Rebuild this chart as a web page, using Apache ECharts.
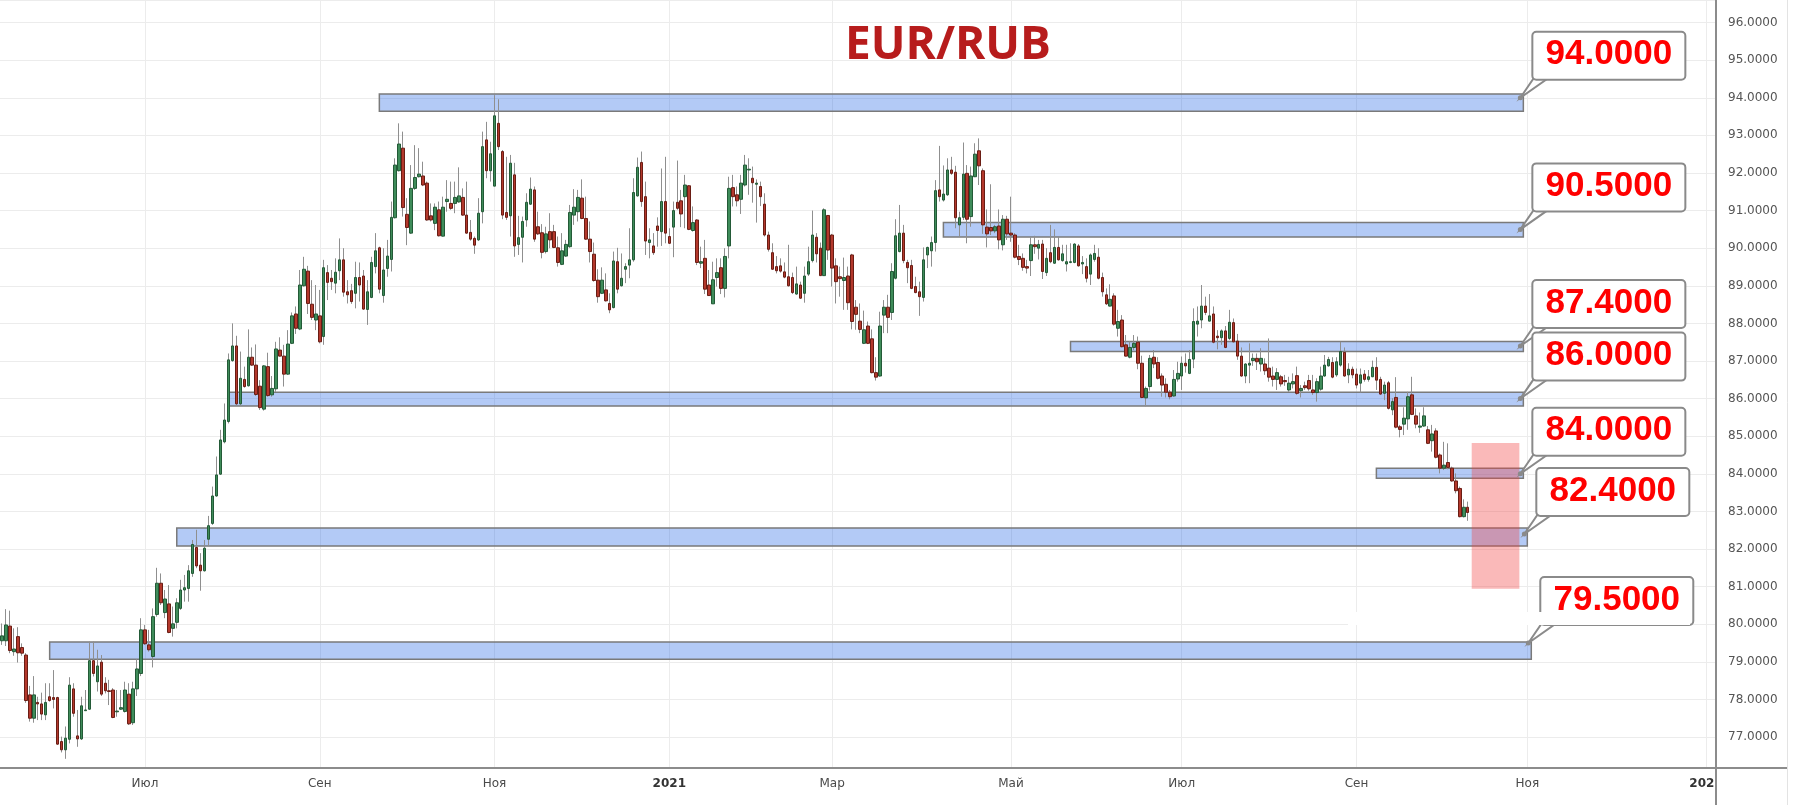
<!DOCTYPE html>
<html>
<head>
<meta charset="utf-8">
<title>EUR/RUB</title>
<script src="https://cdn.jsdelivr.net/npm/echarts/dist/echarts.min.js"></script>
<style>
  html, body { margin: 0; padding: 0; background: #fff; }
  #chart { width: 1793px; height: 805px; }
</style>
</head>
<body>
<div id="chart"></div>
<script>
// daily candles, first one on 2020-05-12 (weekdays only)
const open = [
  79.56,79.56,79.95,79.27,79.67,79.38,79.18,78.12,77.50,77.92,
  77.88,77.59,78.07,78.05,78.05,76.88,76.66,76.94,78.28,77.03,
  76.95,77.70,77.74,79.03,78.47,78.99,78.43,78.23,78.25,77.67,
  77.74,77.68,78.14,77.38,78.28,78.69,79.85,79.45,79.14,80.26,
  81.09,80.31,80.54,79.89,80.05,80.42,80.91,80.95,81.35,82.04,
  81.57,81.42,82.26,82.68,83.41,83.99,84.85,85.39,87.01,87.40,
  85.86,86.51,86.34,87.10,86.89,86.33,85.72,86.85,86.10,86.26,
  87.29,87.13,86.65,87.47,88.25,87.85,89.00,89.39,88.51,88.09,
  88.20,87.65,89.35,89.20,89.07,89.40,89.69,88.84,88.87,88.80,
  89.22,89.26,88.37,88.69,89.51,90.01,88.74,89.46,89.70,90.81,
  92.06,92.66,90.90,90.40,91.59,91.90,91.92,91.73,90.86,90.66,
  91.02,90.32,91.24,91.19,91.19,91.23,91.35,90.88,90.42,90.26,
  90.22,90.97,92.88,92.06,91.65,93.32,92.57,90.95,90.86,91.95,
  90.10,90.29,90.75,91.17,91.55,90.57,90.41,89.91,90.44,90.44,
  90.01,89.57,89.79,90.04,90.88,90.97,91.33,90.79,90.24,89.84,
  89.15,88.80,88.89,88.53,88.42,89.64,89.00,89.44,89.55,89.69,
  91.39,92.28,91.37,90.15,90.06,90.59,90.44,91.24,90.31,90.56,
  91.22,91.26,91.37,91.66,90.47,90.75,89.60,89.73,89.02,88.52,
  89.22,89.48,88.93,90.06,91.61,91.42,91.30,91.68,92.08,91.86,
  91.70,91.64,91.17,90.35,89.88,89.51,89.53,89.37,89.24,89.22,
  88.78,89.02,88.80,89.31,89.67,90.29,90.00,89.27,90.87,90.35,
  89.53,89.24,89.14,89.26,89.82,88.43,88.06,87.47,87.93,87.59,
  86.69,86.60,88.22,88.43,88.29,89.20,89.91,90.40,89.62,89.54,
  88.98,88.84,88.69,89.82,89.93,90.15,91.55,91.28,91.42,92.08,
  92.02,90.62,90.82,91.99,90.84,91.90,92.59,92.06,90.56,90.55,
  90.46,90.59,90.09,90.77,90.40,90.35,89.78,89.73,89.51,89.67,
  90.09,90.00,90.11,89.35,89.88,89.60,90.02,89.67,89.58,89.62,
  89.62,90.06,89.58,89.51,89.31,89.70,89.76,89.22,88.76,88.46,
  88.73,87.87,88.09,87.43,87.10,87.36,87.50,86.94,86.02,86.32,
  87.10,86.96,86.60,86.38,86.17,86.07,86.52,86.60,86.94,86.67,
  87.05,87.98,88.09,88.46,88.06,88.25,87.66,87.62,87.80,87.60,
  88.02,87.53,87.13,86.60,86.89,87.01,87.07,86.92,86.92,86.81,
  86.60,86.51,86.58,86.48,86.23,86.39,86.61,86.21,86.34,86.48,
  86.23,86.16,86.25,86.60,86.87,86.96,86.63,86.89,87.23,86.63,
  86.78,86.65,86.41,86.65,86.51,86.58,86.83,86.51,86.14,86.42,
  85.70,86.03,85.25,85.32,85.46,86.10,85.54,85.24,85.27,85.17,
  84.88,85.14,84.50,84.15,84.30,84.15,83.81,83.61,82.86,83.11
];
const high = [
  80.02,80.40,80.36,79.89,79.92,79.49,79.23,78.36,78.62,78.07,
  78.18,78.43,78.43,78.78,78.07,77.01,77.28,78.59,78.43,77.72,
  78.07,78.25,79.54,79.54,79.32,79.18,78.59,78.52,78.30,78.25,
  78.25,78.47,78.43,78.47,79.07,80.16,79.98,79.85,80.42,81.50,
  81.35,80.91,81.04,80.47,80.69,81.18,81.31,81.57,82.24,82.51,
  81.89,82.24,82.88,83.66,84.46,85.17,85.87,87.20,88.00,87.67,
  87.25,86.85,87.84,87.36,87.44,86.49,86.89,87.22,86.60,87.51,
  87.63,87.43,87.82,88.29,88.45,89.42,89.77,89.53,89.15,89.02,
  88.89,89.69,89.55,89.42,89.73,90.26,90.00,89.15,89.05,89.64,
  89.62,89.42,89.15,89.77,90.40,90.04,90.00,90.22,91.24,92.39,
  93.32,93.10,91.33,92.21,92.74,92.66,92.30,91.77,91.19,91.19,
  91.24,91.37,91.81,91.77,91.77,92.15,91.59,91.77,90.75,90.31,
  91.33,93.10,93.36,92.83,94.07,93.96,92.61,92.43,92.48,92.27,
  90.86,90.84,91.46,91.88,91.64,90.97,90.64,90.57,90.93,90.62,
  90.31,90.40,90.22,91.15,91.57,91.55,91.83,91.37,90.71,90.15,
  89.44,89.49,89.33,88.80,89.91,90.01,89.86,89.60,90.53,91.86,
  92.41,92.57,91.77,90.53,90.40,90.82,92.12,92.43,90.53,91.24,
  92.33,91.55,91.95,91.68,91.11,90.77,90.04,90.22,89.42,89.64,
  89.73,89.73,90.00,91.90,91.95,91.64,91.95,92.48,92.39,92.17,
  91.83,91.77,91.46,90.44,90.13,89.79,89.73,89.62,90.09,89.35,
  89.51,89.11,89.51,90.04,91.00,90.40,90.15,91.06,90.88,90.38,
  89.73,89.51,89.75,89.51,89.85,88.62,88.53,88.34,88.05,87.84,
  87.10,88.31,88.62,88.76,89.60,90.77,91.15,90.62,89.69,89.69,
  89.24,89.11,90.02,90.04,90.31,91.81,92.72,92.20,92.39,92.43,
  92.19,90.97,92.81,92.21,92.17,92.79,92.92,92.12,91.03,91.70,
  90.62,91.03,90.88,90.86,91.37,90.40,90.09,89.86,89.69,90.29,
  90.33,90.22,90.22,90.00,90.62,90.50,90.31,90.09,90.09,90.13,
  90.13,90.11,89.79,89.73,89.86,90.09,90.00,89.35,88.93,89.04,
  88.80,88.36,88.22,87.69,87.52,87.69,87.65,87.14,86.32,87.16,
  87.29,87.10,86.67,86.54,86.23,86.76,86.98,87.12,87.20,87.29,
  88.40,88.45,89.02,88.71,88.78,88.45,87.82,87.84,87.93,88.36,
  88.13,87.72,87.36,86.94,87.47,87.20,87.20,87.34,87.07,87.60,
  86.85,86.81,86.63,86.63,86.58,86.67,86.85,86.36,86.45,86.63,
  86.63,86.54,86.85,87.16,87.11,87.10,87.10,87.51,87.36,86.94,
  86.85,86.80,86.80,86.76,86.76,87.01,87.10,86.58,86.45,86.47,
  86.01,86.57,85.30,85.77,86.18,86.58,85.74,85.63,85.77,85.27,
  85.30,85.21,84.54,84.85,84.81,84.19,84.01,83.66,83.32,83.26
];
const low = [
  79.45,79.42,79.23,79.16,78.98,79.16,77.91,77.41,77.38,77.45,
  77.45,77.45,77.94,77.76,76.79,76.59,76.42,76.83,77.54,76.74,
  76.92,77.70,77.72,78.61,78.21,78.09,78.16,77.85,77.50,77.54,
  77.72,77.65,77.32,77.32,78.09,78.62,79.45,79.27,78.85,80.20,
  80.51,80.16,79.76,79.67,79.89,80.38,80.60,80.60,81.26,81.49,
  80.89,81.40,82.08,82.64,83.39,83.97,84.81,85.34,86.98,85.83,
  85.83,86.29,86.32,86.87,86.07,85.70,85.68,86.05,86.05,86.18,
  87.12,86.32,86.63,87.45,87.72,87.82,88.98,88.25,88.09,87.82,
  87.47,87.43,88.62,88.89,88.80,89.15,88.71,88.53,88.52,88.40,
  88.58,88.36,87.96,88.67,89.33,88.80,88.55,89.24,89.38,90.79,
  92.04,90.84,90.08,90.38,91.55,91.88,91.65,90.73,90.71,90.48,
  90.31,90.31,90.97,91.02,90.93,91.21,90.86,90.38,90.20,89.85,
  90.19,90.66,91.86,91.77,91.65,92.61,90.77,90.75,90.31,89.77,
  89.82,89.62,90.57,91.15,90.17,90.35,89.73,89.86,90.00,90.00,
  89.51,89.55,89.77,90.01,90.62,90.71,90.77,90.22,89.62,89.11,
  88.55,88.78,88.58,88.27,88.40,88.80,88.98,89.07,89.20,89.64,
  91.37,91.10,89.82,89.73,89.82,90.04,90.06,90.13,90.11,89.76,
  91.02,90.56,90.53,90.48,90.44,89.55,89.47,88.78,88.73,88.52,
  88.98,88.78,88.69,89.73,91.11,91.11,90.91,91.64,91.42,91.21,
  90.68,91.12,90.31,89.91,89.42,89.33,89.35,89.20,88.98,88.78,
  88.76,88.65,88.55,89.26,89.62,89.62,89.26,89.26,89.69,88.98,
  88.53,88.71,88.36,88.36,87.84,87.83,87.74,87.45,87.45,86.67,
  86.48,86.58,87.74,87.74,88.09,89.17,89.89,89.60,89.07,88.91,
  88.80,88.20,88.58,89.47,89.51,89.91,91.24,91.24,91.39,91.95,
  90.53,90.31,90.75,90.13,90.57,91.89,91.68,90.38,90.02,90.35,
  90.40,89.97,89.94,90.22,90.17,89.73,89.55,89.40,89.33,89.26,
  89.85,89.70,89.18,89.26,89.60,89.58,89.67,89.64,89.38,89.60,
  89.60,89.51,89.31,89.09,89.02,89.64,89.17,88.71,88.49,88.45,
  87.94,87.65,87.36,87.12,87.07,87.29,86.78,86.01,85.79,86.21,
  86.81,86.51,86.05,86.03,85.98,86.05,86.45,86.23,86.69,86.65,
  86.81,87.65,87.87,88.22,88.05,87.47,87.31,87.43,87.34,87.56,
  87.49,87.03,86.58,86.41,86.41,86.87,86.76,86.72,86.63,86.45,
  86.32,86.23,86.32,86.34,86.18,86.27,86.10,86.03,86.23,86.21,
  86.10,85.92,86.21,86.58,86.85,86.54,86.58,86.85,86.58,86.41,
  86.54,86.27,86.16,86.45,86.45,86.57,86.23,86.10,85.96,85.71,
  85.56,85.21,84.97,85.03,85.17,85.56,85.21,85.09,85.25,84.79,
  84.59,84.41,84.01,84.10,84.12,83.79,83.48,82.84,82.84,82.75
];
const close = [
  79.69,79.98,79.30,79.34,79.24,79.23,77.97,77.50,78.12,77.88,
  77.61,77.92,77.97,78.00,76.81,76.66,76.97,78.38,77.63,76.95,
  77.83,77.72,79.03,78.69,78.89,78.14,78.23,78.21,77.52,77.69,
  77.78,78.25,77.35,78.28,78.81,79.85,79.48,79.32,80.20,81.09,
  80.57,80.67,79.78,80.01,80.57,80.91,80.97,81.42,82.12,81.55,
  81.42,82.02,82.62,83.41,83.97,84.90,85.43,87.03,87.40,85.86,
  86.54,86.32,87.10,86.89,86.11,85.76,86.87,86.08,86.27,87.32,
  87.13,86.65,87.45,88.20,87.87,89.02,89.44,88.53,88.16,88.25,
  87.51,89.48,89.09,89.11,89.36,89.69,88.83,88.76,88.58,89.22,
  89.02,88.38,88.84,89.62,89.93,88.91,89.42,89.79,90.82,92.21,
  92.77,91.08,90.55,91.59,91.88,91.97,91.68,90.75,90.75,91.09,
  90.33,91.09,91.30,91.06,91.35,91.39,90.88,90.40,90.24,90.08,
  90.93,92.70,92.06,92.51,93.52,92.70,90.88,90.82,92.26,90.06,
  90.28,90.71,91.22,91.57,90.24,90.38,89.89,90.38,90.22,90.02,
  89.62,89.93,90.10,90.95,91.09,91.35,90.79,90.24,89.91,89.14,
  88.71,89.15,88.60,88.36,89.66,88.91,89.20,89.51,89.69,91.48,
  92.15,91.24,90.19,90.22,89.88,90.47,91.24,90.40,90.13,91.00,
  91.06,90.91,91.68,90.50,90.68,89.62,89.64,88.91,88.74,89.16,
  89.35,88.93,89.78,91.59,91.37,91.26,91.73,92.21,92.10,91.74,
  91.73,91.37,90.35,89.97,89.44,89.40,89.39,89.23,89.00,88.82,
  89.05,88.67,89.26,89.64,90.35,89.85,89.27,91.02,89.95,89.47,
  89.11,89.19,89.22,88.55,88.05,88.24,87.84,87.83,87.47,86.69,
  86.57,87.93,88.43,88.16,89.38,90.33,90.40,89.67,89.48,88.93,
  88.82,88.71,89.69,90.02,90.15,91.53,91.37,91.44,92.08,91.99,
  90.81,90.81,91.97,90.77,91.92,92.50,92.19,90.62,90.38,90.46,
  90.57,90.22,90.77,90.38,90.35,89.76,89.70,89.49,89.47,90.09,
  90.04,90.10,89.38,89.73,89.64,90.02,89.69,89.85,89.64,89.64,
  90.11,89.53,89.62,89.20,89.82,89.86,89.20,88.84,88.52,88.64,
  87.98,88.05,87.38,87.13,87.36,87.47,86.94,86.03,86.27,87.07,
  86.92,86.54,86.36,86.17,86.05,86.51,86.67,86.94,86.87,87.04,
  88.05,88.06,88.46,88.29,88.20,87.50,87.62,87.80,87.36,88.03,
  87.51,87.13,86.60,86.92,86.94,87.07,86.98,87.07,86.74,86.57,
  86.51,86.69,86.39,86.45,86.41,86.45,86.14,86.27,86.29,86.26,
  86.16,86.45,86.60,86.89,87.04,86.57,86.98,87.25,86.60,86.78,
  86.63,86.36,86.63,86.51,86.58,86.83,86.49,86.12,86.36,85.74,
  85.92,85.24,85.18,85.48,86.05,85.58,85.32,85.27,85.54,84.81,
  85.06,84.44,84.15,84.23,84.17,83.81,83.55,82.86,83.11,82.97
];

// support / resistance zones drawn on the chart
const zoneStart = ['2020-09-22', '2021-04-08', '2021-05-24', '2020-07-30', '2021-09-08', '2020-07-13', '2020-05-28'];
const zoneEnd   = ['2021-10-29', '2021-10-29', '2021-10-29', '2021-10-29', '2021-10-29', '2021-11-01', '2021-11-02'];
const zoneLow   = [93.64, 90.30, 87.25, 85.80, 83.88, 82.08, 79.07];
const zoneHigh  = [94.10, 90.68, 87.52, 86.17, 84.15, 82.56, 79.53];
const levels    = [94.0, 90.5, 87.4, 86.0, 84.0, 82.4, 79.5];

// pink target box
const targetDates = ['2021-10-12', '2021-10-28'];
const targetRange = [80.94, 84.82];

const monthNames = ['Янв', 'Фев', 'Мар', 'Апр', 'Май', 'Июн', 'Июл', 'Авг', 'Сен', 'Окт', 'Ноя', 'Дек'];

// trading days axis (weekdays), runs on past the last candle into 2022
const dates = [];
for (let t = Date.UTC(2020, 4, 12); dates.length < 432; t += 86400000) {
  const wd = new Date(t).getUTCDay();
  if (wd !== 0 && wd !== 6) dates.push(new Date(t).toISOString().slice(0, 10));
}

function isMark (index) {
  if (index === 0) return false;
  const m = +dates[index].slice(5, 7) - 1;
  const pm = +dates[index - 1].slice(5, 7) - 1;
  return m !== pm && m % 2 === 0;
}

const wicks = open.map((o, i) => [o, close[i], low[i], high[i]]);
const bodies = open.map((o, i) => [o, close[i], Math.min(o, close[i]), Math.max(o, close[i])]);

const zoneItems = zoneStart.map((s, i) => [
  { xAxis: s, yAxis: zoneLow[i] },
  { xAxis: zoneEnd[i], yAxis: zoneHigh[i] }
]);
zoneItems.push([
  { xAxis: targetDates[0], yAxis: targetRange[0], itemStyle: { color: 'rgba(240,60,60,0.36)', borderWidth: 0 } },
  { xAxis: targetDates[1], yAxis: targetRange[1] }
]);

const chart = echarts.init(document.getElementById('chart'));

const option = {
  animation: false,
  backgroundColor: '#ffffff',
  grid: { left: 0, right: 77, top: 0, bottom: 37, containLabel: false },
  xAxis: {
    type: 'category',
    data: dates,
    boundaryGap: true,
    axisLine: { lineStyle: { color: '#8c8c8c', width: 2 } },
    axisTick: { show: false },
    axisLabel: {
      interval: (index) => isMark(index),
      margin: 10,
      color: '#4a4a4a',
      fontFamily: 'DejaVu Sans',
      fontSize: 12,
      formatter: (value) => {
        const m = +value.slice(5, 7) - 1;
        return m === 0 ? '{y|' + value.slice(0, 4) + '}' : monthNames[m];
      },
      rich: {
        y: { fontFamily: 'DejaVu Sans', fontSize: 12, fontWeight: 'bold', color: '#333' }
      }
    },
    splitLine: {
      show: true,
      alignWithLabel: true,
      interval: (index) => isMark(index),
      lineStyle: { color: '#ececec', width: 1 }
    }
  },
  yAxis: {
    type: 'value',
    position: 'right',
    min: 76.176,
    max: 96.6,
    splitNumber: 20,
    minInterval: 1,
    maxInterval: 1,
    axisLine: { show: true, lineStyle: { color: '#8c8c8c', width: 2 } },
    axisTick: { show: false },
    axisLabel: {
      margin: 12,
      color: '#555',
      fontFamily: 'DejaVu Sans',
      fontSize: 12,
      showMinLabel: false,
      showMaxLabel: false,
      formatter: (v) => Math.abs(v - Math.round(v)) < 1e-6 ? v.toFixed(4) : ''
    },
    splitLine: { lineStyle: { color: '#ececec', width: 1 } }
  },
  series: [
    {
      name: 'wicks',
      type: 'candlestick',
      data: wicks,
      barWidth: 0.5,
      z: 2,
      silent: true,
      itemStyle: {
        color: '#8f8f8f', color0: '#8f8f8f',
        borderColor: '#8f8f8f', borderColor0: '#8f8f8f', borderWidth: 1
      }
    },
    {
      name: 'EUR/RUB',
      type: 'candlestick',
      data: bodies,
      barWidth: 3,
      z: 3,
      silent: true,
      itemStyle: {
        color: '#3f8c5a', color0: '#b3382c',
        borderColor: '#235a37', borderColor0: '#6a1d14', borderWidth: 1
      }
    },
    {
      name: 'zones',
      type: 'line',
      data: [],
      z: 5,
      silent: true,
      markArea: {
        silent: true,
        itemStyle: { color: 'rgba(33,100,230,0.34)', borderColor: '#7a7a7a', borderWidth: 1.5 },
        data: zoneItems
      }
    }
  ]
};

chart.setOption(option);

// callouts with the level values, anchored at the right end of each zone
const gray = '#8a8a8a';
const extras = [];
levels.forEach((v, i) => {
  const p = chart.convertToPixel({ gridIndex: 0 }, [zoneEnd[i], v]);
  const ax = p[0] - 3;
  const ay = p[1];
  extras.push({
    type: 'polygon', z: 110,
    shape: { points: [[ax, ay], [ax + 13, ay - 19], [ax + 27, ay - 19]] },
    style: { fill: '#fff', stroke: gray, lineWidth: 2 }
  });
  extras.push({
    type: 'rect', z: 111,
    shape: { x: ax + 12, y: ay - 66, width: 153, height: 48, r: 4 },
    style: { fill: '#fff', stroke: gray, lineWidth: 2 }
  });
  extras.push({
    type: 'text', z: 112, x: ax + 88.5, y: ay - 43,
    style: {
      text: v.toFixed(4), fill: '#ff0000',
      font: 'bold 35px "Liberation Sans", Arial, sans-serif',
      textAlign: 'center', textVerticalAlign: 'middle', align: 'center', verticalAlign: 'middle'
    }
  });
  extras.push({
    type: 'circle', z: 113,
    shape: { cx: ax, cy: ay, r: 2.5 },
    style: { fill: gray }
  });
});

extras.push({
  type: 'text', z: 120, x: 948, y: 46,
  style: {
    text: 'EUR/RUB', fill: '#b71c1c',
    font: 'bold 46px "Open Sans", sans-serif',
    textAlign: 'center', textVerticalAlign: 'middle', align: 'center', verticalAlign: 'middle'
  }
});
// leftover of the measuring tool: a white strip over the lower callout
extras.push({ type: 'rect', z: 115, shape: { x: 1348, y: 612, width: 342, height: 13 }, style: { fill: '#fff' } });
// price scale area
extras.push({ type: 'rect', z: 50, shape: { x: 1717, y: 770, width: 76, height: 35 }, style: { fill: '#fff' } });
extras.push({ type: 'line', z: 60, shape: { x1: 1716, y1: 768, x2: 1787, y2: 768 }, style: { stroke: '#8c8c8c', lineWidth: 2 } });
extras.push({ type: 'line', z: 60, shape: { x1: 1716, y1: 768, x2: 1716, y2: 805 }, style: { stroke: '#8c8c8c', lineWidth: 2 } });
extras.push({ type: 'line', z: 60, shape: { x1: 1787.5, y1: 0, x2: 1787.5, y2: 805 }, style: { stroke: '#e3e3e3', lineWidth: 1 } });

chart.setOption({ graphic: extras });

window.addEventListener('resize', () => {
  chart.resize()
})
</script>
</body>
</html>
